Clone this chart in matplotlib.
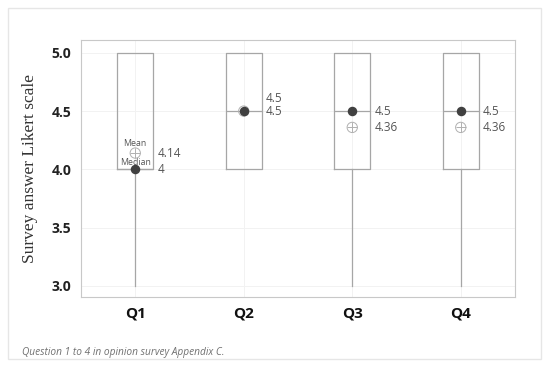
import matplotlib.pyplot as plt
from matplotlib.patches import Rectangle

# datos
preguntas = ['Q1', 'Q2', 'Q3', 'Q4']
q1_caja = [4.0, 4.0, 4.0, 4.0]
q3_caja = [5.0, 5.0, 5.0, 5.0]
medianas = [4.0, 4.5, 4.5, 4.5]
medias = [4.14, 4.5, 4.36, 4.36]
bigote_bajo = [3.0, 4.0, 3.0, 3.0]
bigote_alto = [5.0, 5.0, 5.0, 5.0]
etiqueta_media = ['4.14', '4.5', '4.36', '4.36']
etiqueta_mediana = ['4', '4.5', '4.5', '4.5']

gris = '#a6a6a6'
texto = '#555555'

fig = plt.figure(figsize=(5.5, 3.71), dpi=100)
fig.patches.append(Rectangle((8 / 550, 12 / 371), 533 / 550, 351 / 371, transform=fig.transFigure,
                             fill=False, edgecolor='#e6e6e6', linewidth=1))
ax = fig.add_axes([81 / 550, 1 - 297 / 371, 434 / 550, 257 / 371])

stats = []
for i in range(len(preguntas)):
    stats.append({'label': preguntas[i], 'q1': q1_caja[i], 'q3': q3_caja[i], 'med': medianas[i],
                  'mean': medias[i], 'whislo': bigote_bajo[i], 'whishi': bigote_alto[i], 'fliers': []})

pos = list(range(1, len(preguntas) + 1))
ax.bxp(stats, positions=pos, widths=0.33, showcaps=False, showfliers=False, showmeans=False,
       boxprops=dict(color=gris, linewidth=0.9), whiskerprops=dict(color=gris, linewidth=0.9),
       medianprops=dict(color=gris, linewidth=0.9))

ax.scatter(pos, medias, marker='o', s=55, facecolors='none', edgecolors='#b0b0b0', linewidths=0.7, zorder=4)
ax.scatter(pos, medias, marker='+', s=55, color='#b0b0b0', linewidths=0.7, zorder=4)
ax.scatter(pos, medianas, marker='o', s=34, color='#404040', zorder=5)

for i, p in enumerate(pos):
    x_txt = p + 0.165
    ax.annotate(etiqueta_mediana[i], (x_txt, medianas[i]), xytext=(3, 0), textcoords='offset points',
                va='center', ha='left', fontsize=8.5, color=texto, family='Open Sans')
    dy = 9 if medias[i] == medianas[i] else 0
    ax.annotate(etiqueta_media[i], (x_txt, medias[i]), xytext=(3, dy), textcoords='offset points',
                va='center', ha='left', fontsize=8.5, color=texto, family='Open Sans')

ax.annotate('Mean', (pos[0], medias[0]), xytext=(0, 7), textcoords='offset points',
            ha='center', va='center', fontsize=6.3, color=texto, family='Open Sans')
ax.annotate('Median', (pos[0], medias[0]), xytext=(0, -7), textcoords='offset points',
            ha='center', va='center', fontsize=6.3, color=texto, family='Open Sans')

ax.set_xlim(0.5, 4.5)
ax.set_ylim(2.905, 5.11)
ax.set_yticks([3.0, 3.5, 4.0, 4.5, 5.0])
ax.set_yticklabels(['3.0', '3.5', '4.0', '4.5', '5.0'])
ax.set_xticks(pos)
ax.set_xticklabels(preguntas)
ax.grid(True, color='#f2f2f2', linewidth=0.7)
ax.set_axisbelow(True)
ax.tick_params(length=0, pad=7)
for lbl in ax.get_yticklabels():
    lbl.set_family('Open Sans')
    lbl.set_fontweight('bold')
    lbl.set_color('#222222')
    lbl.set_fontsize(10)
for lbl in ax.get_xticklabels():
    lbl.set_family('Open Sans')
    lbl.set_fontweight('bold')
    lbl.set_color('#111111')
    lbl.set_fontsize(11)
for sp in ax.spines.values():
    sp.set_color('#c8c8c8')
    sp.set_linewidth(0.8)

ax.set_ylabel('Survey answer Likert scale', family='Liberation Serif', fontsize=12.5, color='#333333', labelpad=10)

fig.text(22 / 550, 1 - 352 / 371, 'Question 1 to 4 in opinion survey Appendix C.', fontsize=7.3, style='italic',
         color='#707070', family='Open Sans', va='center')

fig.savefig('out.png', dpi=100)
